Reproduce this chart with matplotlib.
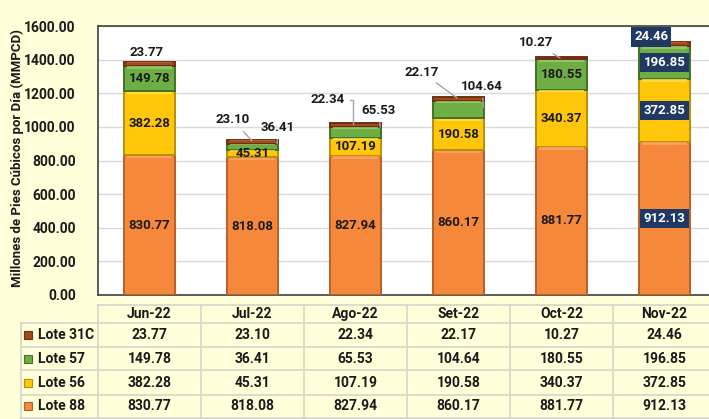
import matplotlib
matplotlib.use("Agg")
import matplotlib.pyplot as plt
import numpy as np

months = ["Jun-22", "Jul-22", "Ago-22", "Set-22", "Oct-22", "Nov-22"]
lote88 = [830.77, 818.08, 827.94, 860.17, 881.77, 912.13]
lote56 = [382.28, 45.31, 107.19, 190.58, 340.37, 372.85]
lote57 = [149.78, 36.41, 65.53, 104.64, 180.55, 196.85]
lote31c = [23.77, 23.10, 22.34, 22.17, 10.27, 24.46]
series_names = ["Lote 31C", "Lote 57", "Lote 56", "Lote 88"]
yticks = [0, 200, 400, 600, 800, 1000, 1200, 1400, 1600]

FONT = ["Roboto", "DejaVu Sans"]
plt.rcParams['font.family'] = FONT
plt.rcParams['font.weight'] = 'bold'

BG = "#FFFFDA"
TXT = "#1a1a1a"
NAVY = "#203864"
cols = {"Lote 88": ("#F5883A", "#B8602A", "#FBA56A"),
        "Lote 56": ("#FFC60A", "#B8900A", "#FFE04A"),
        "Lote 57": ("#6FAE45", "#3F7426", "#98CC6E"),
        "Lote 31C": ("#A34A1C", "#6E3012", "#C66B3A")}

W, H = 709, 419
fig = plt.figure(figsize=(W / 100, H / 100), dpi=100, facecolor=BG)

def px_axes(x0, y0, x1, y1):
    return fig.add_axes([x0 / W, 1 - y1 / H, (x1 - x0) / W, (y1 - y0) / H])

ax = px_axes(98, 26, 716, 295)
ax.set_facecolor("white")
x = np.arange(len(months))
bw = 0.5
stack = [("Lote 88", lote88), ("Lote 56", lote56), ("Lote 57", lote57), ("Lote 31C", lote31c)]
bottom = np.zeros(len(months))
segs = {}
for name, vals in stack:
    fc, ec, hc = cols[name]
    vals = np.array(vals)
    ax.bar(x, vals, bw, bottom=bottom, color=fc, edgecolor=ec, linewidth=1.4, zorder=3)
    # bevel highlight along the top of each segment
    hh = np.minimum(vals * 0.12, 14)
    ax.bar(x, hh, bw * 0.88, bottom=bottom + vals - hh - 3, color=hc, linewidth=0, zorder=3.5, alpha=0.8)
    segs[name] = (bottom.copy(), vals)
    bottom = bottom + vals

ax.set_xlim(-0.5, 5.5)
ax.set_ylim(0, 1600)
ax.set_yticks(yticks)
ax.set_yticklabels([f"{v:.2f}" for v in yticks], fontsize=10, fontweight='bold', color=TXT)
ax.tick_params(axis='y', length=0, pad=16)
ax.set_xticks([])
ax.grid(axis='y', color="#D9D9D9", linewidth=1, zorder=0)
for s in ["left", "top", "bottom"]:
    ax.spines[s].set_color("#404040")
    ax.spines[s].set_linewidth(1.2)
ax.spines["right"].set_visible(False)
fig.text(17 / W, 1 - 158 / H, "Millones de Pies Cúbicos por Día (MMPCD)", rotation=90,
         ha='center', va='center', fontsize=9.5, fontweight='bold', color=TXT)

# inside labels
def inside(name, i, navy=False):
    b, v = segs[name]
    kw = dict(ha='center', va='center', fontsize=9.5, fontweight='bold', zorder=5)
    if navy:
        ax.text(i, b[i] + v[i] / 2, f"{v[i]:.2f}", color="white",
                bbox=dict(boxstyle="square,pad=0.25", fc=NAVY, ec="none"), **kw)
    else:
        ax.text(i, b[i] + v[i] / 2, f"{v[i]:.2f}", color=TXT, **kw)

for i in range(6):
    nv = (i == 5)
    inside("Lote 88", i, nv)
    inside("Lote 56", i, nv)
for i in [0, 4, 5]:
    inside("Lote 57", i, i == 5)

lk = dict(fontsize=9.5, fontweight='bold', color=TXT, ha='center', va='center', zorder=6)
ln = dict(arrowstyle='-', color="#A6A6A6", lw=1, shrinkA=2, shrinkB=0)
tot = bottom
# Jun 31C
ax.text(-0.03, 1445, f"{lote31c[0]:.2f}", **lk)
# Jul
ax.annotate(f"{lote31c[1]:.2f}", xy=(0.995, tot[1] - 6), xytext=(0.81, 1041), arrowprops=ln, **lk)
ax.annotate(f"{lote57[1]:.2f}", xy=(1.24, tot[1] - 25), xytext=(1.24, 999), arrowprops=ln, **lk)
# Ago
ax.annotate(f"{lote31c[2]:.2f}", xy=(1.975, tot[2] - 5), xytext=(1.73, 1160),
            arrowprops=dict(ln, connectionstyle="angle,angleA=0,angleB=90,rad=0"), **lk)
ax.annotate(f"{lote57[2]:.2f}", xy=(2.24, tot[2] - 25), xytext=(2.22, 1100), arrowprops=ln, **lk)
# Set
ax.annotate(f"{lote31c[3]:.2f}", xy=(2.985, tot[3] - 5), xytext=(2.64, 1326), arrowprops=ln, **lk)
ax.annotate(f"{lote57[3]:.2f}", xy=(3.24, tot[3] - 60), xytext=(3.23, 1243), arrowprops=ln, **lk)
# Oct
ax.annotate(f"{lote31c[4]:.2f}", xy=(3.985, tot[4] - 3), xytext=(3.75, 1499), arrowprops=ln, **lk)
# Nov
ax.text(4.87, 1535, f"{lote31c[5]:.2f}", color="white",
        bbox=dict(boxstyle="square,pad=0.25", fc=NAVY, ec="none"),
        **{k: v for k, v in lk.items() if k != 'color'})

# table
tax = px_axes(98, 300, 716, 419)
tax.set_xlim(-0.5, 5.5)
tax.set_ylim(419, 300)
tax.axis('off')
xl = -0.5 - 77 / 103
gc = "#D6D6C8"
hl = [305, 323, 347, 370, 395, 418]
for k, yy in enumerate(hl):
    x0 = -0.5 if k == 0 else xl
    tax.plot([x0, 5.5], [yy, yy], color=gc, lw=1.2, clip_on=False)
tax.plot([xl, xl], [323, 418], color=gc, lw=1.2, clip_on=False)
for i in range(7):
    tax.plot([i - 0.5, i - 0.5], [305, 418], color=gc, lw=1.2, clip_on=False)
tk = dict(fontsize=10, fontweight='bold', color=TXT, va='center', clip_on=False)
for i, m in enumerate(months):
    tax.text(i, 314, m, ha='center', **tk)
rows = [("Lote 31C", lote31c), ("Lote 57", lote57), ("Lote 56", lote56), ("Lote 88", lote88)]
ry = [335, 359, 383, 406]
for (name, vals), yy in zip(rows, ry):
    fc, ec, hc = cols[name]
    tax.plot([xl + 7 / 103], [yy], marker='s', ms=6, mfc=fc, mec=ec, mew=0.8, clip_on=False)
    tax.text(xl + 17 / 103, yy, name, ha='left', **tk)
    for i, v in enumerate(vals):
        tax.text(i, yy, f"{v:.2f}", ha='center', **tk)

fig.savefig("out.png", dpi=100, facecolor=BG)
